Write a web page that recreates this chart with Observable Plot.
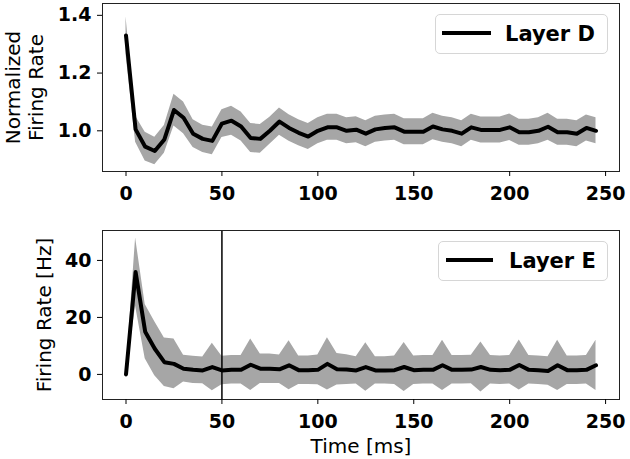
<!DOCTYPE html>
<html><head><meta charset="utf-8">
<script src="https://cdn.jsdelivr.net/npm/d3@7"></script>
<script src="https://cdn.jsdelivr.net/npm/@observablehq/plot@0.6"></script>
<style>
body{margin:0;background:#fff;font-family:"DejaVu Sans",sans-serif;}
#wrap{position:relative;width:630px;height:459px;overflow:hidden;}
#wrap svg{display:block;}
.legend{position:absolute;box-sizing:border-box;border:1px solid #d6d6d6;border-radius:5px;background:#fff;font:bold 21px "DejaVu Sans",sans-serif;color:#000;}
.legend .sw{position:absolute;height:4px;background:#000;}
.legend .lb{position:absolute;line-height:1;white-space:nowrap;}
</style></head>
<body>
<div id="wrap">
  <div id="top"></div>
  <div id="bottom"></div>
  <div class="legend" style="left:435px;top:14px;width:173px;height:40px;"><div class="sw" style="left:6px;top:16px;width:49px;"></div><div class="lb" style="left:69px;top:9px;">Layer D</div></div>
  <div class="legend" style="left:438px;top:241px;width:170px;height:40px;"><div class="sw" style="left:7px;top:16px;width:47px;"></div><div class="lb" style="left:70px;top:9px;">Layer E</div></div>
</div>
<script>
const times = [0,5,10,15,20,25,30,35,40,45,50,55,60,65,70,75,80,85,90,95,100,105,110,115,120,125,130,135,140,145,150,155,160,165,170,175,180,185,190,195,200,205,210,215,220,225,230,235,240,245];
const layerDMean = [1.33,1.005,0.945,0.93,0.97,1.072,1.045,0.99,0.972,0.965,1.025,1.035,1.015,0.975,0.972,1.0,1.032,1.01,0.993,0.98,1.0,1.012,1.012,1.0,1.004,0.99,1.005,1.01,1.012,0.997,0.997,0.997,1.015,1.005,1.0,0.99,1.012,1.003,1.003,1.003,1.012,0.995,0.995,1.0,1.014,0.995,0.995,0.99,1.01,1.0];
const layerDSd = [0.065,0.045,0.05,0.048,0.048,0.055,0.055,0.048,0.047,0.048,0.048,0.05,0.05,0.05,0.05,0.047,0.047,0.046,0.045,0.045,0.045,0.045,0.045,0.045,0.045,0.045,0.045,0.045,0.045,0.045,0.045,0.045,0.046,0.045,0.045,0.045,0.045,0.045,0.045,0.045,0.046,0.045,0.045,0.045,0.047,0.045,0.045,0.045,0.045,0.045];
const layerEMean = [0,35.9,15,9,4.3,3.7,2.0,1.6,1.4,2.6,1.4,1.6,1.6,3.4,2.0,2.0,1.8,3.2,1.5,1.5,1.6,3.7,1.8,1.7,1.4,2.6,1.4,1.4,1.5,2.6,1.5,1.6,1.6,3.2,1.6,1.6,1.7,2.6,1.6,1.5,1.6,3.3,1.6,1.5,1.2,3.2,1.5,1.5,1.6,3.2];
const layerESd = [0,12,9.5,9.5,8.5,8.7,4.7,4.8,4.7,8.3,5,5,5,9,5.2,5.2,5,8.6,5,5,5.2,9.2,5.5,5.2,4.8,8.5,4.8,4.8,5,8.6,5,5,5,8.8,5,5,5,8.8,5,5,5,8.8,5,5,5,8.8,5,5,5,8.8];
const xTicks = [0,50,100,150,200,250];
const yTicksD = [1.0,1.2,1.4];
const yTicksE = [0,20,40];
const markerTime = [50];

const rowsD = times.map((t,i)=>({t, m: layerDMean[i], lo: layerDMean[i]-layerDSd[i], hi: layerDMean[i]+layerDSd[i]}));
const rowsE = times.map((t,i)=>({t, m: layerEMean[i], lo: layerEMean[i]-layerESd[i], hi: layerEMean[i]+layerESd[i]}));

const common = {
  width: 630, marginLeft: 102, marginRight: 11,
  x: {domain: [-12.25, 257.25]},
  style: {fontFamily: "DejaVu Sans, sans-serif", fontSize: "19px", color: "#000", background: "#fff"}
};

const topPlot = Plot.plot({
  ...common, height: 225, marginTop: 3, marginBottom: 54,
  y: {domain: [0.859, 1.441]},
  marks: [
    Plot.areaY(rowsD, {x: "t", y1: "lo", y2: "hi", fill: "#a6a6a6"}),
    Plot.lineY(rowsD, {x: "t", y: "m", stroke: "#000", strokeWidth: 4, strokeLinejoin: "round"}),
    Plot.frame({stroke: "#222"}),
    Plot.axisX({ticks: xTicks, tickSize: 5, tickPadding: 10, label: null, fontWeight: "bold", tickFormat: d => String(d)}),
    Plot.axisY({ticks: yTicksD, tickSize: 5, tickPadding: 6, label: null, fontWeight: "bold", tickFormat: d => d.toFixed(1)}),
    Plot.text(["Normalized\nFiring Rate"], {text: d => d, frameAnchor: "left", textAnchor: "middle", lineAnchor: "middle", dx: -78, rotate: -90, fontSize: 20, lineHeight: 1.15})
  ]
});

const bottomPlot = Plot.plot({
  ...common, height: 234, marginTop: 5, marginBottom: 60,
  y: {domain: [-8.8, 50.5]},
  marks: [
    Plot.areaY(rowsE, {x: "t", y1: "lo", y2: "hi", fill: "#a6a6a6"}),
    Plot.lineY(rowsE, {x: "t", y: "m", stroke: "#000", strokeWidth: 4, strokeLinejoin: "round"}),
    Plot.ruleX(markerTime, {stroke: "#000", strokeWidth: 1.5}),
    Plot.frame({stroke: "#222"}),
    Plot.axisX({ticks: xTicks, tickSize: 5, tickPadding: 10, label: null, fontWeight: "bold", tickFormat: d => String(d)}),
    Plot.axisY({ticks: yTicksE, tickSize: 5, tickPadding: 6, label: null, fontWeight: "bold", tickFormat: d => String(d)}),
    Plot.text(["Firing Rate [Hz]"], {text: d => d, frameAnchor: "left", textAnchor: "middle", lineAnchor: "middle", dx: -58, rotate: -90, fontSize: 20}),
    Plot.text(["Time [ms]"], {text: d => d, frameAnchor: "bottom", textAnchor: "middle", lineAnchor: "top", dy: 39, fontSize: 20})
  ]
});

document.getElementById("top").appendChild(topPlot);
document.getElementById("bottom").appendChild(bottomPlot);
</script>
</body></html>
